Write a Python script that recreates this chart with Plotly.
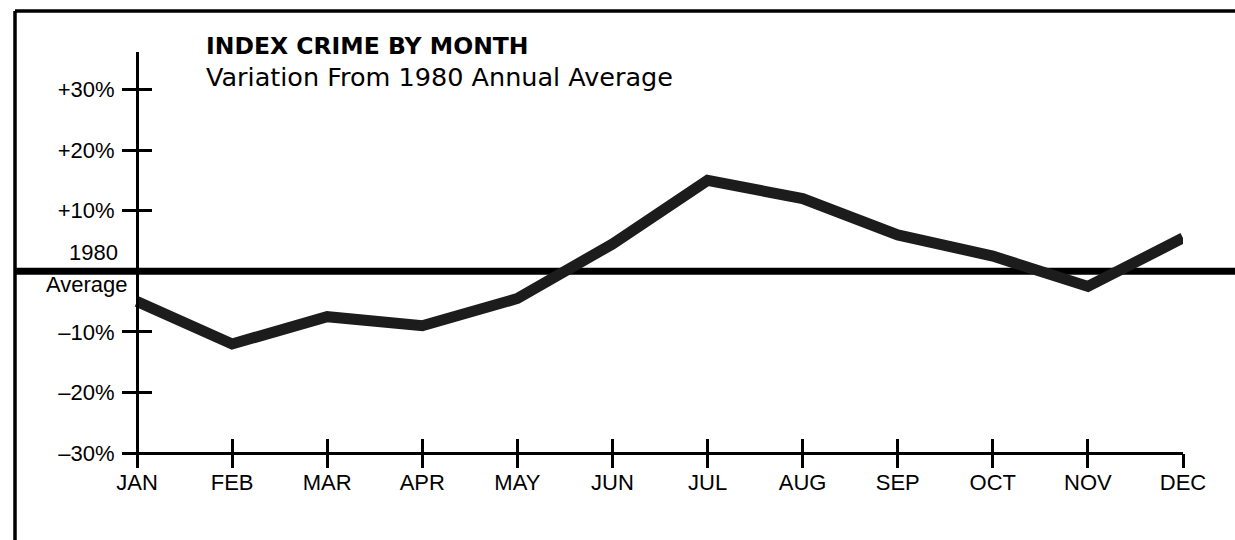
import plotly.graph_objects as go

# ---------------- data ----------------
months = ["JAN", "FEB", "MAR", "APR", "MAY", "JUN", "JUL", "AUG", "SEP", "OCT", "NOV", "DEC"]
variation_pct = [-5, -12, -7.5, -9, -4.5, 4.5, 15, 12, 6, 2.5, -2.5, 5.5]
y_tick_vals = [30, 20, 10, -10, -20, -30]
y_tick_text = ["+30%", "+20%", "+10%", "\u201310%", "\u201320%", "\u201330%"]
baseline_value = 0
baseline_label_top = "1980"
baseline_label_bottom = "Average"
title_text = "INDEX CRIME BY MONTH"
subtitle_text = "Variation From 1980 Annual Average"

# ---------------- layout geometry (pixels) ----------------
W, H = 1235, 540
ML, MR, MT, MB = 15, 0, 52, 73
PW, PH = W - ML - MR, H - MT - MB


def px_x(p):
    return (p - ML) / PW


def px_y(p):
    return (H - MB - p) / PH


# y calibration: -30 at 453px, +30 at 89.5px; plot area 52..467px
u = 60 / (453 - 89.5)
y_range = [-30 - (467 - 453) * u, 30 + (89.5 - 52) * u]
# x calibration: JAN at 137px, DEC at 1183px; axis line from 125px
step = (1183 - 137) / (len(months) - 1)
x_range = [-(137 - 125) / step, len(months) - 1]
x_domain = [px_x(125), px_x(1183)]
x_pos = px_y(453)
y_pos = px_x(137)

tick_font = dict(family="Liberation Sans, Arial, sans-serif", size=22, color="black")

fig = go.Figure()
fig.add_trace(go.Scatter(
    x=months, y=variation_pct, mode="lines",
    line=dict(color="#1c1c1c", width=11),
    hoverinfo="skip", showlegend=False,
))
# helper empty traces so the overlay axes (crossing ticks) are drawn
fig.add_trace(go.Scatter(x=[], y=[], xaxis="x2", yaxis="y", showlegend=False))
fig.add_trace(go.Scatter(x=[], y=[], xaxis="x", yaxis="y2", showlegend=False))

fig.update_layout(
    width=W, height=H, autosize=False,
    margin=dict(l=ML, r=MR, t=MT, b=MB, pad=0, autoexpand=False),
    paper_bgcolor="white", plot_bgcolor="rgba(0,0,0,0)",
    showlegend=False,
    xaxis=dict(
        type="category", domain=x_domain, range=x_range,
        anchor="free", position=x_pos, automargin=False,
        showline=True, linecolor="black", linewidth=3,
        ticks="inside", ticklen=13, tickwidth=3, tickcolor="black",
        tickfont=tick_font, showgrid=False, zeroline=False, ticklabelstandoff=9,
    ),
    xaxis2=dict(
        overlaying="x", type="linear", range=x_range,
        anchor="free", position=x_pos, automargin=False,
        tickvals=list(range(len(months))),
        ticks="outside", ticklen=14, tickwidth=3, tickcolor="black",
        showticklabels=False, showline=False, showgrid=False, zeroline=False,
    ),
    yaxis=dict(
        range=y_range, domain=[0, 1], anchor="free", position=y_pos, automargin=False,
        tickvals=y_tick_vals, ticktext=y_tick_text,
        showline=True, linecolor="black", linewidth=3,
        ticks="inside", ticklen=13, tickwidth=3, tickcolor="black",
        tickfont=tick_font, showgrid=False, zeroline=False, ticklabelstandoff=17,
    ),
    yaxis2=dict(
        overlaying="y", range=y_range, anchor="free", position=y_pos, automargin=False,
        tickvals=y_tick_vals,
        ticks="outside", ticklen=15, tickwidth=3, tickcolor="black",
        showticklabels=False, showline=False, showgrid=False, zeroline=False,
    ),
)

# 1980 average baseline across the full frame width
fig.add_shape(type="line", xref="paper", yref="y", x0=0, x1=1,
              y0=baseline_value, y1=baseline_value,
              line=dict(color="black", width=7), layer="below")

# frame (left and top border)
fig.add_shape(type="line", xref="paper", yref="paper", x0=0, x1=0,
              y0=px_y(H), y1=px_y(11), line=dict(color="black", width=3.5))
fig.add_shape(type="line", xref="paper", yref="paper", x0=0, x1=1,
              y0=px_y(11), y1=px_y(11), line=dict(color="black", width=3.5))

# baseline labels
fig.add_annotation(text=baseline_label_top, xref="paper", yref="y",
                   x=px_x(120), y=baseline_value, xanchor="right", yanchor="bottom",
                   yshift=4, showarrow=False, font=tick_font)
fig.add_annotation(text=baseline_label_bottom, xref="paper", yref="y",
                   x=px_x(130), y=baseline_value, xanchor="right", yanchor="top",
                   yshift=1, showarrow=False, font=tick_font)

# titles
fig.add_annotation(text="<b>" + title_text + "</b>", xref="paper", yref="paper",
                   x=px_x(204), y=px_y(46), xanchor="left", yanchor="middle",
                   showarrow=False,
                   font=dict(family="DejaVu Sans, sans-serif", size=23.5, color="black"))
fig.add_annotation(text=subtitle_text, xref="paper", yref="paper",
                   x=px_x(204), y=px_y(77), xanchor="left", yanchor="middle",
                   showarrow=False,
                   font=dict(family="DejaVu Sans, sans-serif", size=25.5, color="black"))

fig.write_html("out.html",
               config={"displayModeBar": False, "responsive": False},
               post_script="document.body.style.margin='0';document.body.style.overflow='hidden';")
